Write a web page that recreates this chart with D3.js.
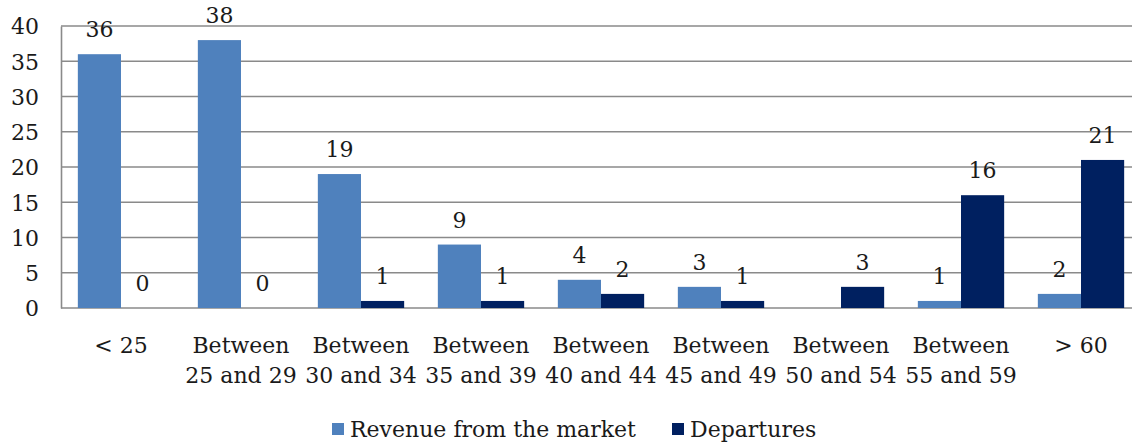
<!DOCTYPE html>
<html>
<head>
<meta charset="utf-8">
<script src="https://cdn.jsdelivr.net/npm/d3@7"></script>
<style>
  body { margin: 0; background: #fff; }
  svg text { font-family: "DejaVu Serif", serif; fill: #1a1a1a; }
</style>
</head>
<body>
<svg id="chart" width="1132" height="445"></svg>
<script>
// chart data
const categories = [["< 25"], ["Between", "25 and 29"], ["Between", "30 and 34"], ["Between", "35 and 39"],
    ["Between", "40 and 44"], ["Between", "45 and 49"], ["Between", "50 and 54"], ["Between", "55 and 59"], ["> 60"]];
const revenue = [36, 38, 19, 9, 4, 3, null, 1, 2];
const departures = [0, 0, 1, 1, 2, 1, 3, 16, 21];
const seriesNames = ["Revenue from the market", "Departures"];
const yTicks = [0, 5, 10, 15, 20, 25, 30, 35, 40];

const colors = ["#4f81bd", "#002060"];
const fontSize = 22;

const svg = d3.select("#chart");

// plot area
const plotLeft = 61, plotTop = 26, plotBottom = 308;
const band = 120;
const plotRight = plotLeft + band * categories.length;

const xScale = d3.scaleBand()
    .domain(categories.map((d, i) => i))
    .range([plotLeft, plotRight])
    .paddingInner(0)
    .paddingOuter(0);
const yScale = d3.scaleLinear().domain([0, 40]).range([plotBottom, plotTop]);

// bar geometry: gap width ~ 75% of a bar
const barW = band / (2 + 0.78);
const gap = band - 2 * barW;
const sub = d3.scaleBand().domain([0, 1]).range([gap / 2, band - gap / 2]);

// gridlines
svg.append("g")
    .selectAll("line")
    .data(yTicks)
    .enter().append("line")
    .attr("x1", plotLeft)
    .attr("x2", plotRight)
    .attr("y1", d => yScale(d))
    .attr("y2", d => yScale(d))
    .attr("stroke", "#8a8a8a")
    .attr("stroke-width", 1.6);

// y axis
const yAxis = svg.append("g")
    .attr("transform", `translate(${plotLeft},0)`)
    .call(d3.axisLeft(yScale).tickValues(yTicks).tickSize(0).tickPadding(22));
yAxis.select(".domain").attr("stroke", "#8a8a8a").attr("stroke-width", 1.6);
yAxis.selectAll("text")
    .style("font-size", fontSize + "px")
    .attr("dy", "0.36em");

// bars
const series = [revenue, departures];
series.forEach((values, s) => {
    const g = svg.append("g");
    const rows = values.map((v, i) => ({ v, i })).filter(d => d.v !== null);

    g.selectAll("rect")
        .data(rows)
        .enter().append("rect")
        .attr("x", d => xScale(d.i) + sub(s))
        .attr("y", d => yScale(d.v))
        .attr("width", sub.bandwidth())
        .attr("height", d => plotBottom - yScale(d.v))
        .attr("fill", colors[s]);

    g.selectAll("text")
        .data(rows)
        .enter().append("text")
        .attr("x", d => xScale(d.i) + sub(s) + sub.bandwidth() / 2)
        .attr("y", d => yScale(d.v) - 17)
        .attr("text-anchor", "middle")
        .style("font-size", fontSize + "px")
        .text(d => d.v);
});

// x axis labels
const xl = svg.append("g");
categories.forEach((lines, i) => {
    const t = xl.append("text")
        .attr("text-anchor", "middle")
        .style("font-size", fontSize + "px");
    lines.forEach((line, j) => {
        t.append("tspan")
            .attr("x", xScale(i) + band / 2)
            .attr("y", 353 + j * 30)
            .text(line);
    });
});

// legend
const legend = svg.append("g");
const legendX = [332, 672];
seriesNames.forEach((name, s) => {
    legend.append("rect")
        .attr("x", legendX[s])
        .attr("y", 423)
        .attr("width", 12)
        .attr("height", 12)
        .attr("fill", colors[s]);
    legend.append("text")
        .attr("x", legendX[s] + 18)
        .attr("y", 437)
        .style("font-size", fontSize + "px")
        .text(name);
});
</script>
</body>
</html>
